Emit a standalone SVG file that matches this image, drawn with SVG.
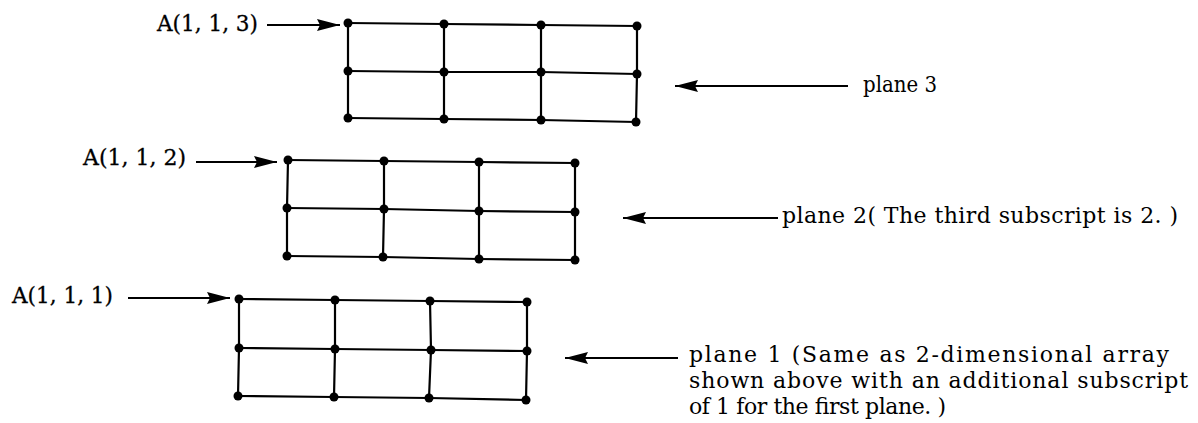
<svg xmlns="http://www.w3.org/2000/svg" width="1198" height="423" viewBox="0 0 1198 423">
<style>
.bg{fill:#fff}
.g{fill:none;stroke:#000;stroke-width:2.2;stroke-linejoin:round}
.d{fill:#000}
.t{font-family:"DejaVu Serif","Liberation Serif",serif;font-size:22px;fill:#000}
.lbl{font-family:"DejaVu Serif","Liberation Serif",serif;font-size:22px;fill:#000;stroke:#000;stroke-width:0.3}
.a{stroke:#000;stroke-width:2;fill:none}
</style>
<defs>
<marker id="ah" markerUnits="userSpaceOnUse" markerWidth="26" markerHeight="13" refX="23" refY="6" orient="auto">
<path d="M0,0 L23,6 L0,12 L3,6 z" fill="#000"/>
</marker>
</defs>
<rect class="bg" x="0" y="0" width="1198" height="423"/>

<g id="plane3">
<polyline class="g" points="348,23 444,24 541,25 637,26"/>
<polyline class="g" points="348,71 444,72 541,72 637,74"/>
<polyline class="g" points="348,118 444,119 541,120 636,122"/>
<polyline class="g" points="348,23 348,71 348,118"/>
<polyline class="g" points="444,24 444,72 444,119"/>
<polyline class="g" points="541,25 541,72 541,120"/>
<polyline class="g" points="637,26 637,74 636,122"/>
<g class="d">
<circle cx="348" cy="23" r="4.5"/><circle cx="444" cy="24" r="4.5"/><circle cx="541" cy="25" r="4.5"/><circle cx="637" cy="26" r="4.5"/>
<circle cx="348" cy="71" r="4.5"/><circle cx="444" cy="72" r="4.5"/><circle cx="541" cy="72" r="4.5"/><circle cx="637" cy="74" r="4.5"/>
<circle cx="348" cy="118" r="4.5"/><circle cx="444" cy="119" r="4.5"/><circle cx="541" cy="120" r="4.5"/><circle cx="636" cy="122" r="4.5"/>
</g>
</g>

<g id="plane2">
<polyline class="g" points="288,160 384,161 479,162 575,163"/>
<polyline class="g" points="287,208 384,209 479,211 575,212"/>
<polyline class="g" points="287,256 383,257 479,259 575,260"/>
<polyline class="g" points="288,160 287,208 287,256"/>
<polyline class="g" points="384,161 384,209 383,257"/>
<polyline class="g" points="479,162 479,211 479,259"/>
<polyline class="g" points="575,163 575,212 575,260"/>
<g class="d">
<circle cx="288" cy="160" r="4.5"/><circle cx="384" cy="161" r="4.5"/><circle cx="479" cy="162" r="4.5"/><circle cx="575" cy="163" r="4.5"/>
<circle cx="287" cy="208" r="4.5"/><circle cx="384" cy="209" r="4.5"/><circle cx="479" cy="211" r="4.5"/><circle cx="575" cy="212" r="4.5"/>
<circle cx="287" cy="256" r="4.5"/><circle cx="383" cy="257" r="4.5"/><circle cx="479" cy="259" r="4.5"/><circle cx="575" cy="260" r="4.5"/>
</g>
</g>

<g id="plane1">
<polyline class="g" points="239,299 335,300 430,301 527,302"/>
<polyline class="g" points="239,348 335,349 431,350 527,351"/>
<polyline class="g" points="238,396 334,397 429,398 526,400"/>
<polyline class="g" points="239,299 239,348 238,396"/>
<polyline class="g" points="335,300 335,349 334,397"/>
<polyline class="g" points="430,301 431,350 429,398"/>
<polyline class="g" points="527,302 527,351 526,400"/>
<g class="d">
<circle cx="239" cy="299" r="4.5"/><circle cx="335" cy="300" r="4.5"/><circle cx="430" cy="301" r="4.5"/><circle cx="527" cy="302" r="4.5"/>
<circle cx="239" cy="348" r="4.5"/><circle cx="335" cy="349" r="4.5"/><circle cx="431" cy="350" r="4.5"/><circle cx="527" cy="351" r="4.5"/>
<circle cx="238" cy="396" r="4.5"/><circle cx="334" cy="397" r="4.5"/><circle cx="429" cy="398" r="4.5"/><circle cx="526" cy="400" r="4.5"/>
</g>
</g>

<g id="connectors">
<line class="a" x1="267" y1="25" x2="340" y2="25" marker-end="url(#ah)"/>
<line class="a" x1="196" y1="162" x2="277" y2="162" marker-end="url(#ah)"/>
<line class="a" x1="128" y1="298" x2="230" y2="298" marker-end="url(#ah)"/>
<line class="a" x1="848" y1="86" x2="675" y2="86" marker-end="url(#ah)"/>
<line class="a" x1="778" y1="218" x2="623" y2="218" marker-end="url(#ah)"/>
<line class="a" x1="678" y1="358" x2="565" y2="358" marker-end="url(#ah)"/>
</g>

<g id="labels">
<text class="lbl" x="157" y="31" textLength="101" lengthAdjust="spacingAndGlyphs">A(1, 1, 3)</text>
<text class="lbl" x="83" y="165" textLength="103" lengthAdjust="spacingAndGlyphs">A(1, 1, 2)</text>
<text class="lbl" x="12" y="303" textLength="101" lengthAdjust="spacingAndGlyphs">A(1, 1, 1)</text>
<text class="t" x="863" y="92" textLength="74" lengthAdjust="spacingAndGlyphs">plane 3</text>
<text class="t" x="782" y="223" textLength="396" lengthAdjust="spacing">plane 2( The third subscript is 2. )</text>
<text class="t" x="689" y="362" textLength="480" lengthAdjust="spacing">plane 1 (Same as 2-dimensional array</text>
<text class="t" x="689" y="388" textLength="499" lengthAdjust="spacing">shown above with an additional subscript</text>
<text class="t" x="689" y="414" textLength="257" lengthAdjust="spacing">of 1 for the first plane. )</text>
</g>
</svg>
